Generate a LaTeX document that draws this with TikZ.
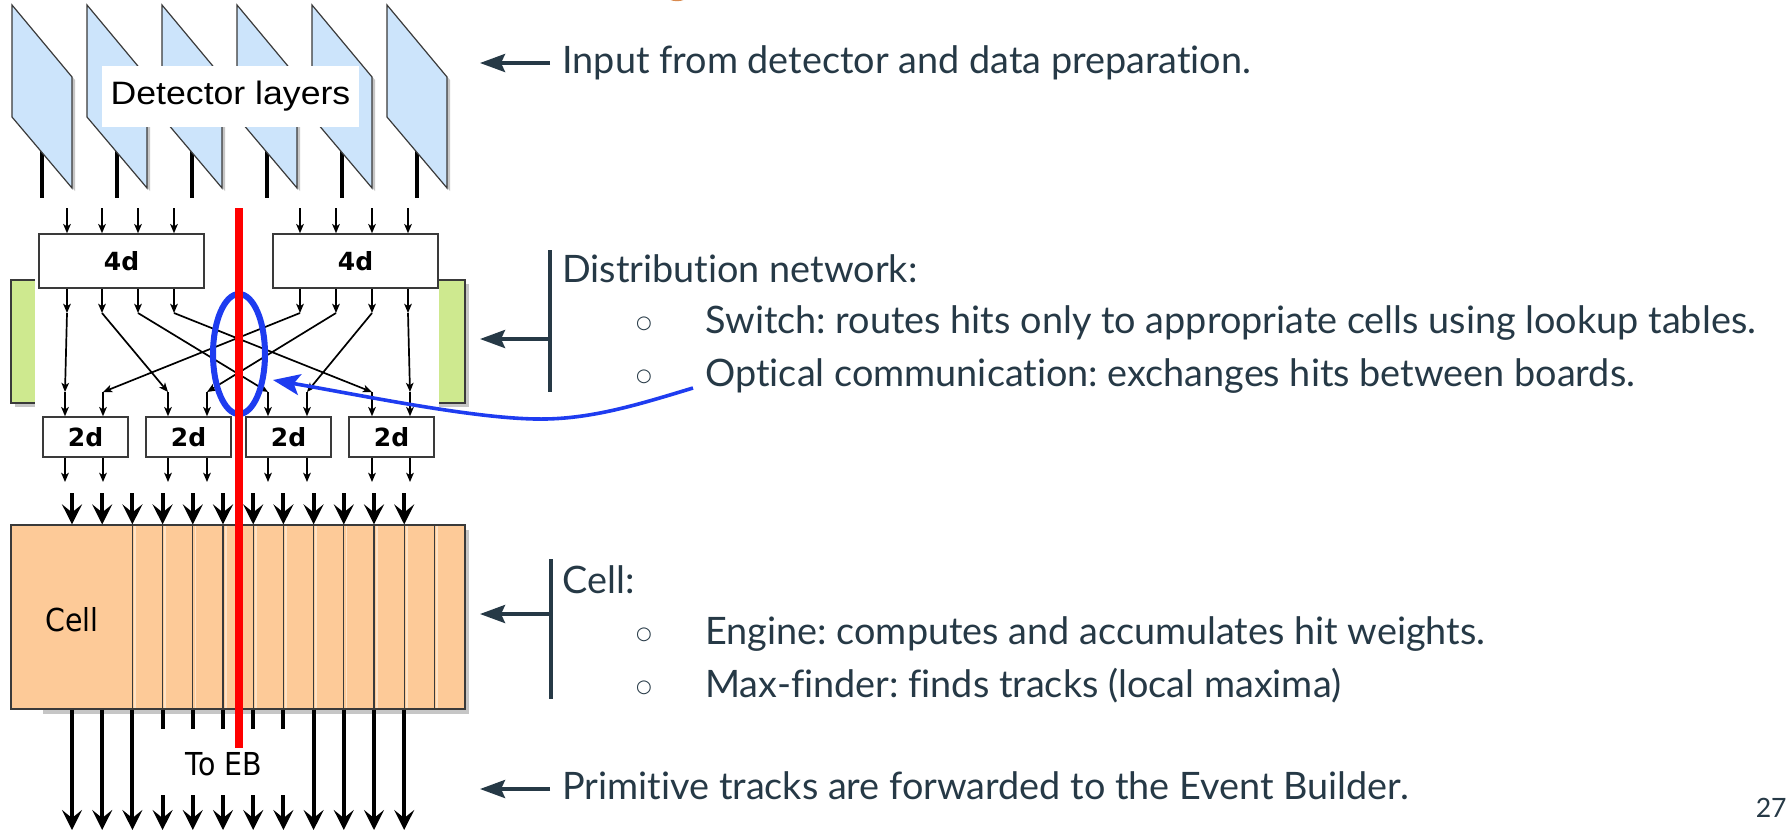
\documentclass[tikz,border=0pt]{standalone}
\usepackage{fontspec}
\setmainfont[Ligatures=NoCommon]{Lato}
\newfontfamily\arialfam{Liberation Sans}
\newfontfamily\dejafam{DejaVu Sans}
\usetikzlibrary{arrows.meta,calc,shapes.geometric}
\definecolor{slate}{HTML}{263946}
\definecolor{layerblue}{HTML}{CCE4FB}
\definecolor{peach}{HTML}{FDCA98}
\definecolor{lime}{HTML}{CEE98F}
\definecolor{markblue}{HTML}{1E3CF0}
\definecolor{tanorange}{HTML}{D98A4E}
\definecolor{edgegray}{HTML}{3A3A3A}
\tikzset{
  thinarrow/.style={line width=0.85pt,-{Stealth[length=4.6pt,width=3.8pt,inset=1.2pt]}},
  thickarrow/.style={line width=2pt,-{Stealth[length=10pt,width=10pt,inset=4pt]}},
  thickstub/.style={line width=2pt},
  blk/.style={draw=edgegray,line width=0.75pt,fill=white,inner sep=0},
  bigbox/.style={blk,minimum width=82.5pt,minimum height=27pt,font=\dejafam\bfseries\fontsize{12.5pt}{14pt}\selectfont},
  smallbox/.style={blk,minimum width=42.5pt,minimum height=20pt,font=\dejafam\bfseries\fontsize{12.5pt}{14pt}\selectfont},
  notetext/.style={text=slate,inner sep=0,font=\fontsize{18.9pt}{22pt}\selectfont},
  pointer/.style={slate,line width=1.8pt,-{Stealth[length=12.5pt,width=9pt,inset=2pt]}},
  bracketline/.style={slate,line width=1.8pt},
  bulletmark/.style={text=slate,inner sep=0,font=\dejafam\fontsize{9pt}{10pt}\selectfont},
  shade/.style={fill=gray!45},
}
\frenchspacing
\begin{document}
\begin{tikzpicture}[x=0.5pt,y=-0.5pt]
\useasboundingbox (0,0) rectangle (1787,831);
\fill[white] (0,0) rectangle (1787,831);

% clipped title glyph at the top edge
\draw[tanorange,line width=2.2pt] (677,-17) circle [radius=16];

% detector layers
\foreach \i in {0,...,5}{
  \pgfmathsetmacro\L{12+75*\i}
  \draw[line width=2.2pt] (\L+30,150) -- (\L+30,198);
  \fill[shade] (\L+3,8) -- (\L+63,80) -- (\L+63,191) -- (\L+3,120) -- cycle;
  \draw[fill=layerblue,draw=edgegray,line width=0.6pt] (\L,5) -- (\L+60,77) -- (\L+60,188) -- (\L,117) -- cycle;
}
\node[fill=white,inner sep=0,minimum width=128.5pt,minimum height=30.5pt,
      font=\arialfam\fontsize{16.2pt}{18pt}\selectfont] (layers) at (230.5,96.5)
      {\scalebox{1.1}[1]{Detector layers}};

% boards behind the network
\fill[shade] (15,284) rectangle (64,407);
\draw[fill=lime,draw=edgegray,line width=0.6pt] (11,280) rectangle (60,403);
\fill[shade] (424,284) rectangle (469,407);
\draw[fill=lime,draw=edgegray,line width=0.6pt] (420,280) rectangle (465,403);
\fill[white] (35,236) rectangle (439,412);

% 4d stage
\node[bigbox] (fourL) at (121.5,261) {4d};
\node[bigbox] (fourR) at (355.5,261) {4d};
\foreach \x [count=\k] in {67,102,138,174}{
  \coordinate (inL\k) at (\x,208);
  \draw[thinarrow] (inL\k) -- (inL\k |- fourL.north);
}
\foreach \x [count=\k] in {300,336,372,408}{
  \coordinate (inR\k) at (\x,208);
  \draw[thinarrow] (inR\k) -- (inR\k |- fourR.north);
}
\foreach \x [count=\k] in {67,102,138,174,300,336,372,408}{
  \coordinate (fo\k) at (\x,313);
}
\foreach \k in {1,...,4}{\draw[thinarrow] (fo\k |- fourL.south) -- (fo\k);}
\foreach \k in {5,...,8}{\draw[thinarrow] (fo\k |- fourR.south) -- (fo\k);}

% 2d stage
\node[smallbox] (twoA) at (85.5,437) {2d};
\node[smallbox] (twoB) at (188.5,437) {2d};
\node[smallbox] (twoC) at (288.5,437) {2d};
\node[smallbox] (twoD) at (391.5,437) {2d};
\foreach \x [count=\k] in {65,103,168,207,268,307,372,410}{
  \coordinate (jn\k) at (\x,392);
  \coordinate (tw\k) at (\x,482);
}
\foreach \a/\b in {1/1,2/3,3/5,4/7,5/2,6/4,7/6,8/8}{
  \draw[thinarrow] (fo\a) -- (jn\b);
}
\foreach \k/\bx in {1/twoA,2/twoA,3/twoB,4/twoB,5/twoC,6/twoC,7/twoD,8/twoD}{
  \draw[thinarrow] (jn\k) -- (jn\k |- \bx.north);
  \draw[thinarrow] (jn\k |- \bx.south) -- (tw\k);
}

% cells
\fill[shade] (43,530) rectangle (469,714);
\node[draw=edgegray,fill=peach,line width=0.6pt,minimum width=227pt,minimum height=92pt,inner sep=0] (cell) at (238,617) {};
\foreach \k in {2,...,12}{
  \pgfmathsetmacro\xx{72+30.2*\k}
  \draw[peach!55!white,line width=0.9pt] (\xx+2.6,526) -- (\xx+2.6,708);
  \draw[edgegray,line width=0.6pt] (\xx,525) -- (\xx,709);
}
\node[inner sep=0,font=\dejafam\fontsize{15.8pt}{18pt}\selectfont] (celllabel) at (72,620) {\scalebox{0.9}[1]{Cell}};

\foreach \k in {0,...,11}{
  \pgfmathsetmacro\xx{72+30.2*\k}
  \coordinate (ct\k) at (\xx,493);
  \coordinate (cb\k) at (\xx,830);
  \coordinate (sb\k) at (\xx,729);
  \coordinate (rs\k) at (\xx,795);
  \draw[thickarrow] (ct\k) -- (ct\k |- cell.north);
}
\foreach \k in {0,1,2,8,9,10,11}{
  \draw[thickarrow] (ct\k |- cell.south) -- (cb\k);
}
\foreach \k in {3,...,7}{
  \draw[thickstub] (ct\k |- cell.south) -- (sb\k);
  \draw[thickarrow] (rs\k) -- (cb\k);
}
\node[inner sep=0,font=\dejafam\fontsize{15.8pt}{18pt}\selectfont] (toeb) at (224,764) {\scalebox{0.9}[1]{To EB}};

% board boundary and optical link
\node[ellipse,draw=markblue,line width=3pt,minimum width=26pt,minimum height=60pt,inner sep=0] (ring) at (239,354) {};
\coordinate (redtop) at (239,208);
\coordinate (redbot) at (239,748);
\draw[red,line width=3.9pt] (redtop) -- (redbot);
\coordinate (optstart) at (693,388);
\coordinate (ringtip) at (273,380);
\draw[markblue,line width=1.8pt,-{Stealth[length=13.5pt,width=10.5pt,inset=3pt]}]
  (optstart) .. controls (640,404) and (590,420) .. (536,419)
             .. controls (470,418) and (360,395) .. (ringtip);

% notes
\coordinate (inA) at (550,63);  \coordinate (inB) at (480,63);
\draw[pointer] (inA) -- (inB);
\node[notetext,anchor=base west] (noteinput) at (562,73) {Input from detector and data preparation.};

\coordinate (dtop) at (550,250); \coordinate (dbot) at (550,392);
\coordinate (dA) at (550,339);  \coordinate (dB) at (480,339);
\draw[bracketline] (dtop) -- (dbot);
\draw[pointer] (dA) -- (dB);
\node[notetext,anchor=base west] (notedist) at (562,282) {Distribution network:};
\node[bulletmark] (b1) at (644,324) {○};
\node[notetext,anchor=base west] (noteswitch) at (705,333) {Switch: routes hits only to appropriate cells using lookup tables.};
\node[bulletmark] (b2) at (644,377) {○};
\node[notetext,anchor=base west] (noteoptical) at (705,386) {Optical communication: exchanges hits between boards.};

\coordinate (ctop) at (551,559); \coordinate (cbot) at (551,699);
\coordinate (cA) at (551,614);  \coordinate (cB) at (480,614);
\draw[bracketline] (ctop) -- (cbot);
\draw[pointer] (cA) -- (cB);
\node[notetext,anchor=base west] (notecell) at (562,593) {Cell:};
\node[bulletmark] (b3) at (644,635) {○};
\node[notetext,anchor=base west] (noteengine) at (705,644) {Engine: computes and accumulates hit weights.};
\node[bulletmark] (b4) at (644,688) {○};
\node[notetext,anchor=base west] (notemax) at (705,697) {Max-finder: finds tracks (local maxima)};

\coordinate (pA) at (550,789);  \coordinate (pB) at (480,789);
\draw[pointer] (pA) -- (pB);
\node[notetext,anchor=base west] (noteprim) at (562,799) {Primitive tracks are forwarded to the Event Builder.};

\node[text=slate,inner sep=0,anchor=base east,font=\fontsize{13.3pt}{16pt}\selectfont] (pagenum) at (1787,817) {27};
\end{tikzpicture}
\end{document}
